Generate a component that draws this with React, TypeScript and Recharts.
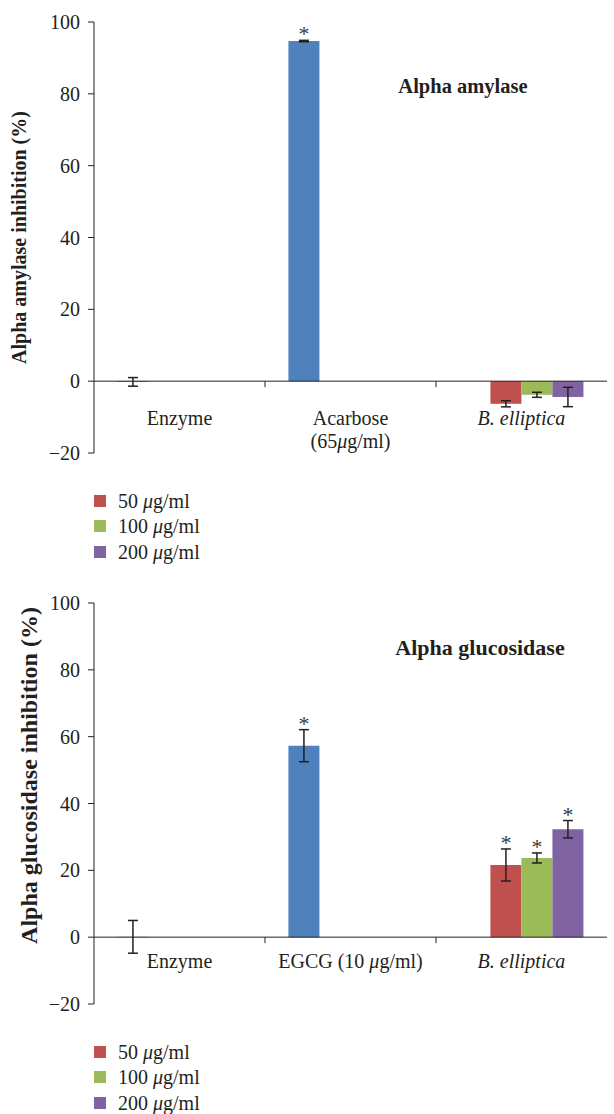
import React from "react";
import {
  BarChart, Bar, XAxis, YAxis, ErrorBar, ReferenceLine, Legend, LabelList,
} from "recharts";

const INK = "#231f20";
const FONT = '"Liberation Serif", "Times New Roman", serif';

const seriesNames = ["50 μg/ml", "100 μg/ml", "200 μg/ml"];
const seriesColors = ["#C0504D", "#9BBB59", "#8064A2"];
const controlColor = "#4F81BD";
const yTicks = [-20, 0, 20, 40, 60, 80, 100];

// alpha amylase
const amylaseCategories = ["Enzyme", "Acarbose\n(65μg/ml)", "B. elliptica"];
const amylaseControl = [-0.2, 94.7, null];
const amylaseControlErr = [1.2, 0.2, null];
const amylaseControlSig = [false, true, false];
const amylase50 = [null, null, -6.3];
const amylase50Err = [null, null, 0.85];
const amylase100 = [null, null, -3.8];
const amylase100Err = [null, null, 0.7];
const amylase200 = [null, null, -4.4];
const amylase200Err = [null, null, 2.7];
const amylaseDoseSig = [false, false, false];

// alpha glucosidase
const glucoCategories = ["Enzyme", "EGCG (10 μg/ml)", "B. elliptica"];
const glucoControl = [0.1, 57.3, null];
const glucoControlErr = [4.9, 4.8, null];
const glucoControlSig = [false, true, false];
const gluco50 = [null, null, 21.6];
const gluco50Err = [null, null, 4.8];
const gluco100 = [null, null, 23.7];
const gluco100Err = [null, null, 1.5];
const gluco200 = [null, null, 32.3];
const gluco200Err = [null, null, 2.6];
const glucoDoseSig = [false, false, true];

const ITALIC_CATS = ["B. elliptica"];

function splitMu(s: string) {
  const parts: { t: string; it: boolean }[] = [];
  s.split(/(μ)/).forEach((t) => { if (t) parts.push({ t, it: t === "μ" }); });
  return parts;
}

function svgRich(s: string) {
  return splitMu(s).map((p, i) =>
    <tspan key={i} fontStyle={p.it ? "italic" : undefined}>{p.t}</tspan>);
}

function htmlRich(s: string) {
  return splitMu(s).map((p, i) => p.it ? <i key={i}>{p.t}</i> : <span key={i}>{p.t}</span>);
}

const fmtTick = (v: number) => (v < 0 ? `−${Math.abs(v)}` : `${v}`);

interface PanelProps {
  categories: string[];
  control: (number | null)[];
  controlErr: (number | null)[];
  controlSig: boolean[];
  doses: (number | null)[][];
  doseErrs: (number | null)[][];
  doseSig: boolean[];
  height: number;
  margin: { top: number; right: number; bottom: number; left: number };
  title: string;
  titleX: number;
  titleY: number;
  titleSize: number;
  yLabel: string;
  yLabelX: number;
  yLabelShift: number;
  yLabelSize: number;
  labelDy: number;
  legendTop: number;
}

const W = 614;
const Y_AXIS_W = 94;

function Panel(p: PanelProps) {
  const rows = p.categories.map((name, i) => ({
    name,
    control: p.control[i],
    controlErr: p.controlErr[i],
    d0: p.doses[0][i], e0: p.doseErrs[0][i],
    d1: p.doses[1][i], e1: p.doseErrs[1][i],
    d2: p.doses[2][i], e2: p.doseErrs[2][i],
  }));

  const plotH = p.height - p.margin.top - p.margin.bottom - 30;
  const plotW = W - Y_AXIS_W - p.margin.left - p.margin.right;
  const halfBand = plotW / p.categories.length / 2;
  // pixel row of the zero line, used to hang the category labels off it
  const zeroY = p.margin.top + (100 / 120) * plotH;
  const pxPerUnit = plotH / 120;

  // asterisk above the error bar of significant bars
  const star = (sig: boolean[], vals: (number | null)[], errs: (number | null)[]) => (lp: any) => {
    const vb = lp.viewBox || {};
    const x = lp.x ?? vb.x;
    const y = lp.y ?? vb.y;
    const width = lp.width ?? vb.width;
    const height = lp.height ?? vb.height;
    let idx = vals.findIndex((v) => v !== null && v === Number(lp.value));
    if (idx < 0) idx = lp.index;
    if (idx === undefined || idx < 0 || !sig[idx] || x === undefined) return null;
    const errPx = (errs[idx] ?? 0) * pxPerUnit;
    const top = Math.min(y, y + height) - errPx;
    return (
      <text x={x + width / 2} y={top + 1} textAnchor="middle" fill="#3a3a3a"
        fontSize={22} fontFamily={FONT}>*</text>
    );
  };

  const tick = (tp: any) => {
    const { x, payload, index } = tp;
    const label: string = payload.value;
    const lines = label.split("\n");
    const italic = ITALIC_CATS.includes(label);
    return (
      <g>
        {index > 0 && (
          <line x1={x - halfBand} x2={x - halfBand} y1={zeroY} y2={zeroY + 6} stroke={INK} />
        )}
        <text x={x} y={zeroY + p.labelDy} textAnchor="middle" fill={INK}
          fontSize={20} fontFamily={FONT} fontStyle={italic ? "italic" : undefined}>
          {lines.map((ln, i) => (
            <tspan key={i} x={x} dy={i === 0 ? 0 : 23}>{svgRich(ln)}</tspan>
          ))}
        </text>
      </g>
    );
  };

  const yTitle = (lp: any) => {
    const vb = lp.viewBox;
    const cx = p.yLabelX;
    const cy = vb.y + vb.height / 2 + p.yLabelShift;
    return (
      <text x={cx} y={cy} transform={`rotate(-90, ${cx}, ${cy})`} textAnchor="middle"
        dominantBaseline="central" fill={INK} fontWeight="bold"
        fontSize={p.yLabelSize} fontFamily={FONT}>{p.yLabel}</text>
    );
  };

  const legendContent = () => (
    <div style={{ fontFamily: FONT, fontSize: 20, color: INK }}>
      {seriesNames.map((name, i) => (
        <div key={name} style={{ display: "flex", alignItems: "center", height: 25.5 }}>
          <span style={{ width: 12, height: 12, background: seriesColors[i], marginRight: 12, display: "inline-block" }} />
          <span style={{ lineHeight: 1 }}>{htmlRich(name)}</span>
        </div>
      ))}
    </div>
  );

  const doseKeys = ["d0", "d1", "d2"];
  const errKeys = ["e0", "e1", "e2"];

  return (
    <div style={{ position: "relative", width: W, height: p.height }}>
      <BarChart width={W} height={p.height} data={rows} margin={p.margin}
        barCategoryGap="13.7%" barGap={0}>
        <XAxis dataKey="name" axisLine={false} tickLine={false} interval={0} height={30} tick={tick} />
        <YAxis
          width={Y_AXIS_W} domain={[-20, 100]} ticks={yTicks} interval={0}
          tickFormatter={fmtTick} tickSize={6} tickMargin={8}
          axisLine={{ stroke: INK }} tickLine={{ stroke: INK }}
          tick={{ fill: INK, fontSize: 20, fontFamily: FONT }}
          label={yTitle}
        />
        <Bar dataKey="control" name="control" fill={controlColor} legendType="none" isAnimationActive={false}>
          <ErrorBar dataKey="controlErr" direction="y" width={5} stroke={INK} strokeWidth={1.5} />
          <LabelList dataKey="control" content={star(p.controlSig, p.control, p.controlErr)} />
        </Bar>
        {doseKeys.map((k, i) => (
          <Bar key={k} dataKey={k} name={seriesNames[i]} fill={seriesColors[i]} isAnimationActive={false}>
            <ErrorBar dataKey={errKeys[i]} direction="y" width={5} stroke={INK} strokeWidth={1.5} />
            <LabelList dataKey={k} content={star(p.doseSig, p.doses[i], p.doseErrs[i])} />
          </Bar>
        ))}
        <ReferenceLine y={0} stroke={INK} strokeWidth={1} />
        <Legend layout="vertical" align="center" verticalAlign="middle" width={260}
          wrapperStyle={{ top: p.legendTop, left: 94 }} content={legendContent} />
      </BarChart>
      <div style={{
        position: "absolute", left: p.titleX, top: p.titleY, transform: "translate(-50%, -50%)",
        fontFamily: FONT, fontWeight: "bold", fontSize: p.titleSize, color: INK,
        whiteSpace: "nowrap", lineHeight: 1,
      }}>{p.title}</div>
    </div>
  );
}

export default function App() {
  return (
    <div style={{ position: "absolute", left: 0, top: 0, width: W, height: 1114, background: "#fff" }}>
      <Panel
        categories={amylaseCategories}
        control={amylaseControl} controlErr={amylaseControlErr} controlSig={amylaseControlSig}
        doses={[amylase50, amylase100, amylase200]}
        doseErrs={[amylase50Err, amylase100Err, amylase200Err]}
        doseSig={amylaseDoseSig}
        height={575} margin={{ top: 22, right: 7, bottom: 92, left: 0 }}
        title="Alpha amylase" titleX={463} titleY={86} titleSize={20.5}
        yLabel="Alpha amylase inhibition (%)" yLabelX={19} yLabelShift={0} yLabelSize={20}
        labelDy={44} legendTop={488}
      />
      <Panel
        categories={glucoCategories}
        control={glucoControl} controlErr={glucoControlErr} controlSig={glucoControlSig}
        doses={[gluco50, gluco100, gluco200]}
        doseErrs={[gluco50Err, gluco100Err, gluco200Err]}
        doseSig={glucoDoseSig}
        height={539} margin={{ top: 28, right: 7, bottom: 80, left: 0 }}
        title="Alpha glucosidase" titleX={480} titleY={73} titleSize={22}
        yLabel="Alpha glucosidase inhibition (%)" yLabelX={29} yLabelShift={-28} yLabelSize={24}
        labelDy={31} legendTop={464}
      />
    </div>
  );
}
